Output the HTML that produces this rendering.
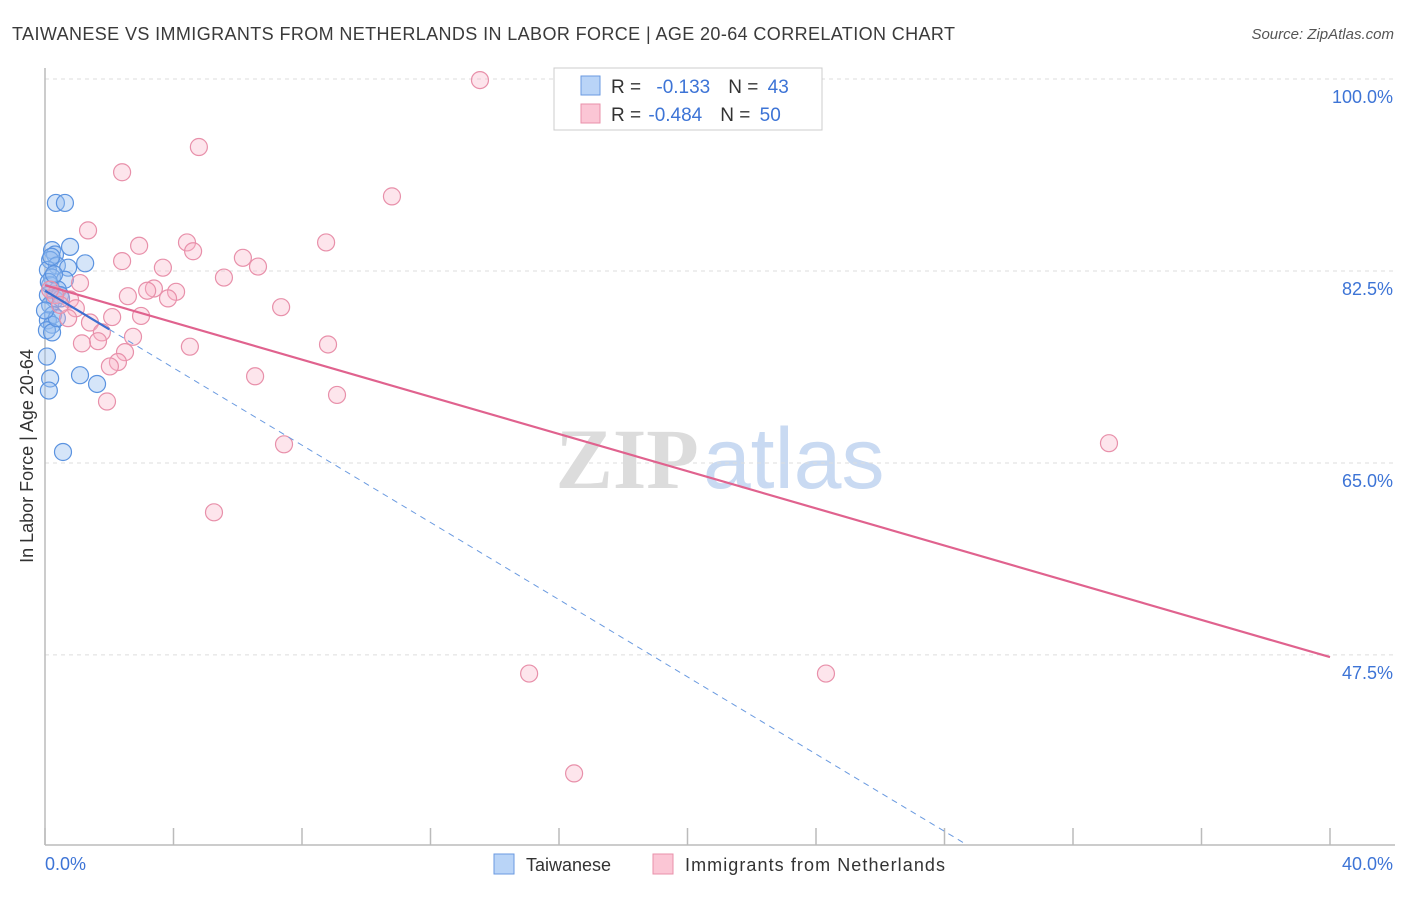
<!DOCTYPE html>
<html><head><meta charset="utf-8"><style>
body{margin:0;background:#fff;font-family:"Liberation Sans",sans-serif}
svg text{font-family:"Liberation Sans",sans-serif}
</style></head><body>
<svg id="c" width="1406" height="892" xmlns="http://www.w3.org/2000/svg">
<text x="12" y="40" font-size="18" fill="#3a3a3a" textLength="943">TAIWANESE VS IMMIGRANTS FROM NETHERLANDS IN LABOR FORCE | AGE 20-64 CORRELATION CHART</text>
<text x="1394" y="39" font-size="15" fill="#555" text-anchor="end" font-style="italic">Source: ZipAtlas.com</text>
<text x="720" y="488" font-size="86" text-anchor="middle"><tspan fill="#dcdcdc" font-family="Liberation Serif" font-weight="bold">ZIP</tspan><tspan fill="#c9daf2" dx="4">atlas</tspan></text>
<g id="grid"></g>
<g id="ticks"></g>
<line x1="45" y1="68" x2="45" y2="845" stroke="#bbb" stroke-width="1.5"/>
<line x1="45" y1="845" x2="1395" y2="845" stroke="#bbb" stroke-width="1.5"/>
<text transform="translate(33,456) rotate(-90)" font-size="18" fill="#333" text-anchor="middle">In Labor Force | Age 20-64</text>
<text x="45" y="870" font-size="18" fill="#3d74d6">0.0%</text>
<text x="1393" y="870" font-size="18" fill="#3d74d6" text-anchor="end">40.0%</text>
<g id="pts"></g>
<g id="trend"></g>
<g>
<rect x="554" y="68" width="268" height="62" fill="#fff" stroke="#ccc"/>
<rect x="581" y="76" width="19" height="19" fill="#b9d4f7" stroke="#6a9ae0"/>
<rect x="581" y="104" width="19" height="19" fill="#fbc6d5" stroke="#e890aa"/>
<text x="611" y="93" font-size="19" fill="#333">R = <tspan fill="#3d74d6" dx="10">-0.133</tspan><tspan dx="18" fill="#333">N = </tspan><tspan fill="#3d74d6" dx="4">43</tspan></text>
<text x="611" y="121" font-size="19" fill="#333">R = <tspan fill="#3d74d6" dx="2">-0.484</tspan><tspan dx="18" fill="#333">N = </tspan><tspan fill="#3d74d6" dx="4">50</tspan></text>
</g>
<g>
<rect x="494" y="854" width="20" height="20" fill="#b9d4f7" stroke="#6a9ae0"/>
<text x="526" y="871" font-size="18" fill="#333">Taiwanese</text></g>
<g>
<rect x="653" y="854" width="20" height="20" fill="#fbc6d5" stroke="#e890aa"/>
<text x="685" y="871" font-size="18" fill="#333" textLength="260">Immigrants from Netherlands</text></g>
</svg>
<script>
const yTicks=[100,82.5,65,47.5];
const yTickLabels=["100.0%","82.5%","65.0%","47.5%"];
const xTicks=[0,4,8,12,16,20,24,28,32,36,40];
const blueX=[0.34,0.62,0.78,0.22,0.31,0.16,1.25,0.37,0.09,0.72,0.22,0.62,0.16,0.40,0.09,0.31,0.16,0.25,0.09,0.22,0.06,0.22,0.06,0.16,0.12,1.09,1.62,0.56,0.37,0.47,0.0,0.12,0.28,0.5,0.2];
const blueY=[88.7,88.7,84.7,84.4,84.0,83.5,83.2,83.0,82.6,82.8,81.9,81.7,81.2,80.8,80.3,79.9,79.4,78.5,78.0,77.6,77.1,76.9,74.7,72.7,71.6,73.0,72.2,66.0,78.2,80.3,78.9,81.5,82.2,80.0,83.8];
const pinkX=[13.54,4.79,2.40,10.80,1.34,2.93,4.42,8.75,4.61,6.16,6.63,2.40,3.67,5.57,1.09,3.39,4.08,3.18,2.58,3.83,0.78,7.35,0.96,2.09,2.99,0.72,1.40,1.77,2.74,1.65,1.15,8.81,4.51,2.49,2.27,2.02,6.54,9.09,1.93,7.44,33.12,5.26,15.07,24.31,16.47,0.31,0.47,0.16];
const pinkY=[99.9,93.8,91.5,89.3,86.2,84.8,85.1,85.1,84.3,83.7,82.9,83.4,82.8,81.9,81.4,80.9,80.6,80.7,80.2,80.0,79.9,79.2,79.1,78.3,78.4,78.2,77.8,76.9,76.5,76.1,75.9,75.8,75.6,75.1,74.2,73.8,72.9,71.2,70.6,66.7,66.8,60.5,45.8,45.8,36.7,80.3,79.4,80.8];
const pinkTrend=[81.2,47.3];
const blueTrend=[80.7,-1.76];
const X=v=>45+v/40*1285, Y=v=>79+(100-v)*10.97;
const NS="http://www.w3.org/2000/svg";
function mk(t,a,p){const e=document.createElementNS(NS,t);for(const k in a)e.setAttribute(k,a[k]);document.getElementById(p).appendChild(e);return e;}
yTicks.forEach((t,i)=>{
 const l=mk('line',{x1:45,x2:1395,y1:Y(t),y2:Y(t),stroke:'#ddd','stroke-dasharray':'4,4'},'grid');
 
 
 const tx=mk('text',{x:1393,y:Y(t)+24,'font-size':18,fill:'#3d74d6','text-anchor':'end'},'grid');
 tx.textContent=yTickLabels[i];
 
 
});
xTicks.forEach(t=>{
 const l=mk('line',{x1:X(t),x2:X(t),y1:828,y2:845,stroke:'#bbb','stroke-width':1.5},'ticks');
 
 
});
blueX.forEach((v,i)=>{
 const c=mk('circle',{cx:X(v),cy:Y(blueY[i]),r:8.5,fill:'rgba(150,190,240,0.4)',stroke:'#5b93e0','stroke-width':1.2},'pts');
 
 
});
pinkX.forEach((v,i)=>{
 const c=mk('circle',{cx:X(v),cy:Y(pinkY[i]),r:8.5,fill:'rgba(248,180,200,0.35)',stroke:'#e890aa','stroke-width':1.2},'pts');
 
 
});
const pl=mk('line',{x1:X(0),y1:Y(pinkTrend[0]),x2:X(40),y2:Y(pinkTrend[1]),stroke:'#e0628e','stroke-width':2.2},'trend');


const bs=mk('line',{x1:X(0),y1:Y(blueTrend[0]),x2:X(2),y2:Y(blueTrend[0]+blueTrend[1]*2),stroke:'#3d6fd0','stroke-width':2.2},'trend');


const xe=(30.2-blueTrend[0])/blueTrend[1];
const bd=mk('line',{x1:X(2),y1:Y(blueTrend[0]+blueTrend[1]*2),x2:X(xe),y2:Y(30.2),stroke:'#6a9ae0','stroke-width':1,'stroke-dasharray':'6,5'},'trend');


</script>
</body></html>
